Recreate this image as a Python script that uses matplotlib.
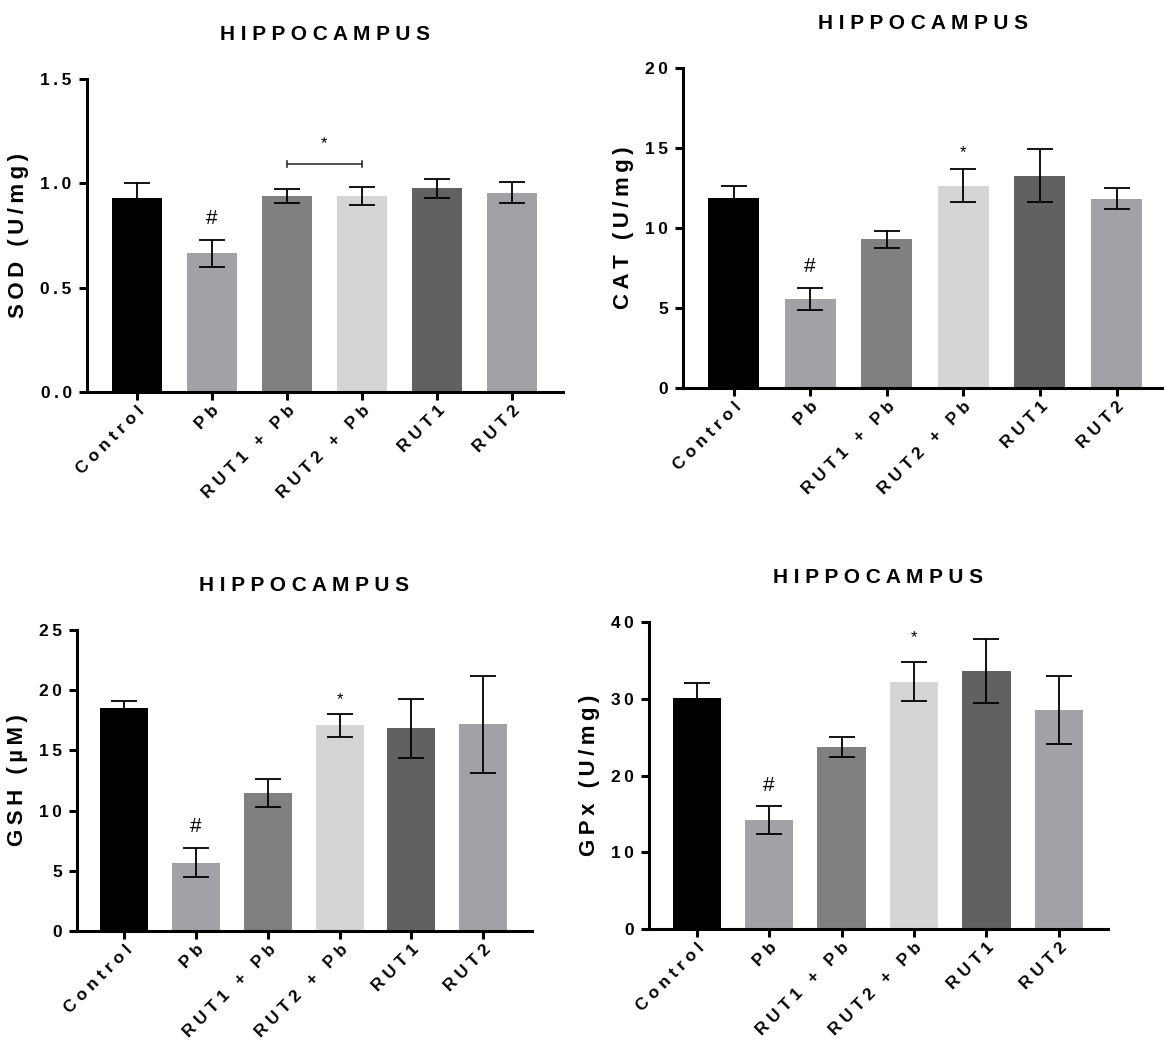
import matplotlib
matplotlib.use("Agg")
import matplotlib.pyplot as plt
import numpy as np

plt.rcParams['font.family'] = ['Liberation Sans', 'DejaVu Sans']

groups = ['Control', 'Pb', 'RUT1 + Pb', 'RUT2 + Pb', 'RUT1', 'RUT2']
colors = ['#000000', '#a1a1a6', '#808080', '#d5d5d5', '#616161', '#a1a1a6']

sod_mean = [0.930, 0.665, 0.939, 0.938, 0.976, 0.955]
sod_err = [0.072, 0.065, 0.035, 0.044, 0.045, 0.050]
cat_mean = [11.86, 5.57, 9.31, 12.65, 13.28, 11.83]
cat_err = [0.79, 0.71, 0.53, 1.02, 1.65, 0.66]
gsh_mean = [18.54, 5.68, 11.47, 17.07, 16.82, 17.16]
gsh_err = [0.53, 1.22, 1.19, 0.92, 2.48, 4.06]
gpx_mean = [30.12, 14.21, 23.68, 32.20, 33.64, 28.50]
gpx_err = [1.95, 1.80, 1.28, 2.54, 4.15, 4.40]

W, H = 1164, 1040


def spaced(s, sep='\u2009'):
    return sep.join(list(s))


def px_axes(fig, left, right, top, bottom):
    return fig.add_axes([left / W, 1 - bottom / H, (right - left) / W, (bottom - top) / H])


def panel(ax, mean, err, ymax, yticks, ylabel, ticklabels, xmax=5.68):
    x = np.arange(len(groups))
    ax.bar(x, mean, width=0.667, color=colors, zorder=1)
    ax.errorbar(x, mean, yerr=err, fmt='none', ecolor='black', elinewidth=1.3,
                capsize=9.5, capthick=1.3, zorder=2)
    ax.set_xlim(-0.66, xmax)
    ax.set_ylim(0, ymax)
    ax.set_yticks(yticks)
    ax.set_yticklabels([spaced(t) for t in ticklabels], fontsize=12.5, fontweight='bold')
    ax.set_xticks(x)
    ax.set_xticklabels([spaced(g, ' ') for g in groups], rotation=45, ha='right',
                       rotation_mode='anchor', fontsize=12.3, fontweight='bold')
    for s in ['top', 'right']:
        ax.spines[s].set_visible(False)
    for s in ['left', 'bottom']:
        ax.spines[s].set_linewidth(2.2)
    ax.tick_params(width=2.2, length=6, pad=5)
    ax.tick_params(axis='x', pad=2)
    ax.set_ylabel(spaced(ylabel), fontsize=16, fontweight='bold', labelpad=8)
    ax.set_title(spaced('HIPPOCAMPUS', ' '), fontsize=15, fontweight='bold', pad=28)


fig = plt.figure(figsize=(W / 100, H / 100), dpi=100)

# SOD
ax1 = px_axes(fig, 87, 563, 79, 392)
panel(ax1, sod_mean, sod_err, 1.5, [0, 0.5, 1.0, 1.5], 'SOD (U/mg)', ['0.0', '0.5', '1.0', '1.5'])
ax1.text(1, 0.83, '#', ha='center', va='center', fontsize=15)
ax1.plot([2, 3], [1.093, 1.093], color='#333333', lw=1.2)
ax1.plot([2, 2], [1.08, 1.106], color='#333333', lw=1.2)
ax1.plot([3, 3], [1.08, 1.106], color='#333333', lw=1.2)
ax1.text(2.5, 1.19, '*', ha='center', va='center', fontsize=12)

# CAT
ax2 = px_axes(fig, 683, 1164, 68, 388)
panel(ax2, cat_mean, cat_err, 20, [0, 5, 10, 15, 20], 'CAT (U/mg)', ['0', '5', '10', '15', '20'], xmax=5.62)
ax2.text(1, 7.6, '#', ha='center', va='center', fontsize=15)
ax2.text(3, 14.7, '*', ha='center', va='center', fontsize=12)

# GSH
ax3 = px_axes(fig, 77, 532, 630, 931)
panel(ax3, gsh_mean, gsh_err, 25, [0, 5, 10, 15, 20, 25], 'GSH (µM)', ['0', '5', '10', '15', '20', '25'])
ax3.text(1, 8.7, '#', ha='center', va='center', fontsize=15)
ax3.text(3, 19.2, '*', ha='center', va='center', fontsize=12)

# GPx
ax4 = px_axes(fig, 649, 1108, 622, 929)
panel(ax4, gpx_mean, gpx_err, 40, [0, 10, 20, 30, 40], 'GPx (U/mg)', ['0', '10', '20', '30', '40'])
ax4.text(1, 18.7, '#', ha='center', va='center', fontsize=15)
ax4.text(3, 37.9, '*', ha='center', va='center', fontsize=12)

fig.savefig('out.png', dpi=100)
